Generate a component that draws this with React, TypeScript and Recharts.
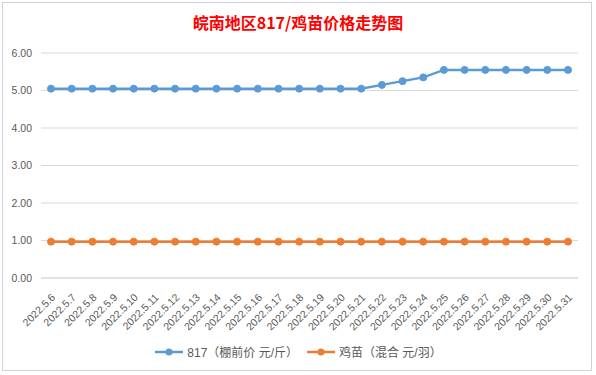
import React from "react";
import { LineChart, Line, XAxis, YAxis, CartesianGrid, Legend } from "recharts";

const categories = [
  "2022.5.6", "2022.5.7", "2022.5.8", "2022.5.9", "2022.5.10", "2022.5.11", "2022.5.12",
  "2022.5.13", "2022.5.14", "2022.5.15", "2022.5.16", "2022.5.17", "2022.5.18", "2022.5.19",
  "2022.5.20", "2022.5.21", "2022.5.22", "2022.5.23", "2022.5.24", "2022.5.25", "2022.5.26",
  "2022.5.27", "2022.5.28", "2022.5.29", "2022.5.30", "2022.5.31",
];
const broilerPrice = [
  5.05, 5.05, 5.05, 5.05, 5.05, 5.05, 5.05, 5.05, 5.05, 5.05, 5.05, 5.05, 5.05, 5.05,
  5.05, 5.05, 5.15, 5.25, 5.35, 5.55, 5.55, 5.55, 5.55, 5.55, 5.55, 5.55,
];
const chickPrice = [
  0.97, 0.97, 0.97, 0.97, 0.97, 0.97, 0.97, 0.97, 0.97, 0.97, 0.97, 0.97, 0.97, 0.97,
  0.97, 0.97, 0.97, 0.97, 0.97, 0.97, 0.97, 0.97, 0.97, 0.97, 0.97, 0.97,
];
const yTicks = [0, 1, 2, 3, 4, 5, 6];
const seriesNames = ["817（棚前价 元/斤）", "鸡苗（混合 元/羽）"];
const title = "皖南地区817/鸡苗价格走势图";

const data = categories.map((c, i) => ({ date: c, a: broilerPrice[i], b: chickPrice[i] }));

const FONT = "'Liberation Sans', 'Noto Sans CJK SC', sans-serif";

const XTick = (props: any) => {
  const { x, y, payload } = props;
  const tx = x + 5;
  const ty = y + 12;
  return (
    <text
      x={tx}
      y={ty}
      transform={`rotate(-45, ${tx}, ${ty})`}
      textAnchor="end"
      fontSize={10.5}
      fill="#595959"
      fontFamily={FONT}
    >
      {payload.value}
    </text>
  );
};

const LegendContent = (props: any) => {
  const { payload } = props;
  return (
    <div style={{ display: "flex", justifyContent: "center", alignItems: "center", gap: 8 }}>
      {(payload || []).map((p: any) => (
        <div key={p.value} style={{ display: "flex", alignItems: "center" }}>
          <svg width={30} height={10} style={{ marginRight: 3 }}>
            <line x1={1} y1={5} x2={29} y2={5} stroke={p.color} strokeWidth={2.5} />
            <circle cx={15} cy={5} r={3.5} fill={p.color} />
          </svg>
          <span style={{ color: "#595959", fontSize: 12, fontFamily: FONT }}>{p.value}</span>
        </div>
      ))}
    </div>
  );
};

export default function App() {
  return (
    <div style={{ position: "absolute", left: 0, top: 0, width: 596, height: 375, background: "#fff" }}>
      <div
        style={{
          position: "absolute",
          left: 2,
          top: 2,
          width: 590,
          height: 369,
          border: "1px solid #d0d0da",
          boxSizing: "border-box",
        }}
      />
      <div
        style={{
          position: "absolute",
          left: 0,
          top: 10,
          width: 596,
          textAlign: "center",
          color: "#FF0000",
          fontWeight: "bold",
          fontSize: 16,
          fontFamily: "'Noto Sans CJK SC', sans-serif",
          lineHeight: "24px",
        }}
      >
        {title}
      </div>
      <div style={{ position: "absolute", left: 0, top: 0 }}>
        <LineChart
          width={596}
          height={375}
          data={data}
          margin={{ top: 53, right: 18, left: 0, bottom: 37 }}
        >
          <CartesianGrid vertical={false} stroke="#d9d9d9" />
          <XAxis
            dataKey="date"
            interval={0}
            height={60}
            tick={<XTick />}
            tickLine={false}
            axisLine={{ stroke: "#d9d9d9" }}
            padding={{ left: 10, right: 10 }}
          />
          <YAxis
            domain={[0, 6]}
            ticks={yTicks}
            width={41}
            axisLine={false}
            tickLine={false}
            tickSize={0}
            tickMargin={9}
            tickFormatter={(v: number) => v.toFixed(2)}
            tick={{ fontSize: 10.5, fill: "#595959", fontFamily: FONT }}
          />
          <Legend
            verticalAlign="middle"
            layout="horizontal"
            align="center"
            content={<LegendContent />}
            wrapperStyle={{ top: 343, left: 0, width: 596 }}
          />
          <Line
            name={seriesNames[0]}
            dataKey="a"
            stroke="#5B9BD5"
            strokeWidth={2.5}
            dot={{ r: 3.5, fill: "#5B9BD5", stroke: "#5B9BD5", strokeWidth: 1 }}
            isAnimationActive={false}
          />
          <Line
            name={seriesNames[1]}
            dataKey="b"
            stroke="#ED7D31"
            strokeWidth={2.5}
            dot={{ r: 3.5, fill: "#ED7D31", stroke: "#ED7D31", strokeWidth: 1 }}
            isAnimationActive={false}
          />
        </LineChart>
      </div>
    </div>
  );
}
